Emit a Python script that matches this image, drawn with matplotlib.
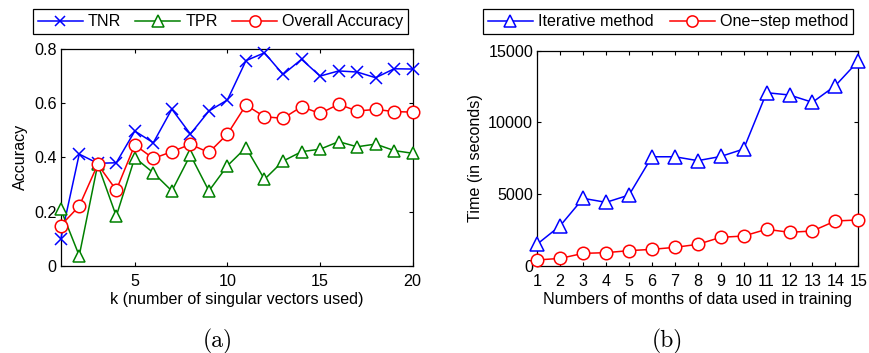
import numpy as np
import matplotlib
matplotlib.use('Agg')
import matplotlib.pyplot as plt

plt.rcParams['font.family'] = ['Liberation Sans', 'DejaVu Sans']

# (a) accuracy vs k
k = list(range(1, 21))
tnr = [0.097, 0.412, 0.378, 0.380, 0.497, 0.454, 0.578, 0.486, 0.571, 0.612,
       0.757, 0.786, 0.706, 0.762, 0.700, 0.719, 0.715, 0.694, 0.727, 0.726]
tpr = [0.209, 0.037, 0.374, 0.183, 0.399, 0.343, 0.276, 0.409, 0.276, 0.369,
       0.436, 0.319, 0.386, 0.421, 0.430, 0.458, 0.439, 0.449, 0.425, 0.415]
overall = [0.148, 0.220, 0.374, 0.279, 0.446, 0.396, 0.421, 0.448, 0.418, 0.486,
           0.593, 0.550, 0.544, 0.587, 0.562, 0.596, 0.571, 0.577, 0.569, 0.567]

# (b) time vs months
months = list(range(1, 16))
iterative = [1510, 2790, 4700, 4420, 4930, 7600, 7600, 7330, 7620, 8140,
             12070, 11910, 11400, 12560, 14280]
one_step = [400, 510, 860, 910, 1050, 1140, 1280, 1490, 1980, 2070,
            2540, 2330, 2420, 3120, 3190]

fs = 11.6
fig = plt.figure(figsize=(8.69, 3.53), dpi=100)
W, H = 869, 353

def add_ax(x0, y0, x1, y1):
    return fig.add_axes([x0 / W, 1 - y1 / H, (x1 - x0) / W, (y1 - y0) / H])

def style(ax):
    ax.tick_params(direction='in', top=True, right=True, labelsize=fs,
                   length=3, width=0.8, pad=3)
    ax.tick_params(axis='x', pad=6)
    for s in ax.spines.values():
        s.set_linewidth(0.9)

line_kw = dict(mew=1.1, lw=1.1, clip_on=False, zorder=3)

# left panel
ax1 = add_ax(60.7, 49, 412.7, 265.7)
ax1.plot(k, tnr, color='blue', marker='x', ms=8, label='TNR', **line_kw)
ax1.plot(k, tpr, color='green', marker='^', ms=9, mfc='white', label='TPR', **line_kw)
ax1.plot(k, overall, color='red', marker='o', ms=9, mfc='white',
         label='Overall Accuracy', **line_kw)
ax1.set_xlim(1, 20)
ax1.set_ylim(0, 0.8)
ax1.set_xticks([5, 10, 15, 20])
ax1.set_yticks([0, 0.2, 0.4, 0.6, 0.8])
ax1.set_yticklabels(['0', '0.2', '0.4', '0.6', '0.8'])
ax1.set_xlabel('k (number of singular vectors used)', fontsize=fs, labelpad=2)
ax1.set_ylabel('Accuracy', fontsize=fs, labelpad=4)
style(ax1)
leg1 = ax1.legend(ncol=3, loc='lower left', bbox_to_anchor=(33 / W, 1 - 34 / H, 375 / W, 28 / H),
                  bbox_transform=fig.transFigure, mode='expand', fontsize=fs,
                  handlelength=2.8, handletextpad=0.3, columnspacing=0.5,
                  borderaxespad=0, borderpad=0.3, fancybox=False, edgecolor='black',
                  framealpha=1, markerscale=0.9)
leg1.get_frame().set_linewidth(0.9)

# right panel
ax2 = add_ax(537.3, 50.7, 858.3, 265.7)
ax2.plot(months, iterative, color='blue', marker='^', ms=10, mfc='white',
         label='Iterative method', **line_kw)
ax2.plot(months, one_step, color='red', marker='o', ms=9, mfc='white',
         label='One\u2212step method', **line_kw)
ax2.set_xlim(1, 15)
ax2.set_ylim(0, 15000)
ax2.set_xticks(months)
ax2.set_yticks([0, 5000, 10000, 15000])
ax2.set_xlabel('Numbers of months of data used in training', fontsize=fs, labelpad=2)
ax2.set_ylabel('Time (in seconds)', fontsize=fs, labelpad=4)
style(ax2)
leg2 = ax2.legend(ncol=2, loc='lower left', bbox_to_anchor=(483 / W, 1 - 34 / H, 370 / W, 28 / H),
                  bbox_transform=fig.transFigure, mode='expand', fontsize=fs,
                  handlelength=2.8, handletextpad=0.3, columnspacing=0.5,
                  borderaxespad=0, borderpad=0.3, fancybox=False, edgecolor='black',
                  framealpha=1, markerscale=0.9)
leg2.get_frame().set_linewidth(0.9)

fig.text(218 / W, 1 - 341 / H, '(a)', family='cmr10', fontsize=17, ha='center', va='center')
fig.text(667 / W, 1 - 341 / H, '(b)', family='cmr10', fontsize=17, ha='center', va='center')

fig.savefig('out.png', dpi=100)
